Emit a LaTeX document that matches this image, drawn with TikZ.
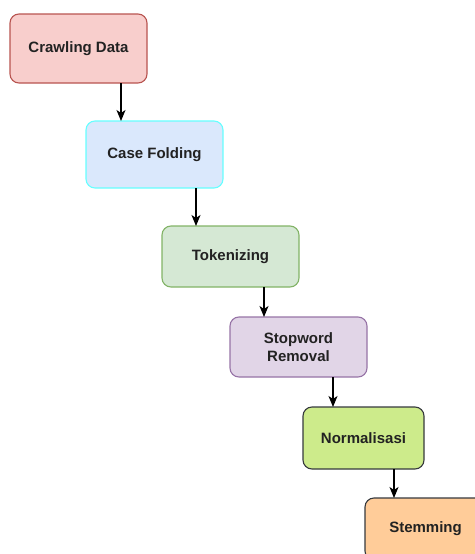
\documentclass[tikz,border=0pt]{standalone}
\usepackage{fontspec}
\setmainfont{Liberation Sans}
\usepackage{xcolor}
\usepackage{tikz}
\usetikzlibrary{
  arrows.meta,
  positioning
}
\definecolor{ppRed}{HTML}{F8CECC}
\definecolor{ppRedLine}{HTML}{B85450}
\definecolor{ppBlue}{HTML}{DAE8FC}
\definecolor{ppCyan}{HTML}{66FFFF}
\definecolor{ppGreen}{HTML}{D5E8D4}
\definecolor{ppGreenLine}{HTML}{82B366}
\definecolor{ppPurple}{HTML}{E1D5E7}
\definecolor{ppPurpleLine}{HTML}{9673A6}
\definecolor{ppLime}{HTML}{CDEB8B}
\definecolor{ppOrange}{HTML}{FFCC99}
\definecolor{ppDark}{HTML}{36393D}
\definecolor{ppText}{HTML}{222222}
\tikzset{
  ppnode/.style={
    draw, rounded corners=9pt, minimum width=137pt, minimum height=61pt,
    font=\fontsize{15}{18.5}\selectfont\bfseries, text=ppText, align=center,
    line width=1.1pt, inner sep=0pt, outer sep=0pt
  },
  crawlbox/.style={ppnode, fill=ppRed, draw=ppRedLine, minimum height=69pt},
  casebox/.style={ppnode, fill=ppBlue, draw=ppCyan, minimum height=67pt},
  tokenbox/.style={ppnode, fill=ppGreen, draw=ppGreenLine},
  stopbox/.style={ppnode, fill=ppPurple, draw=ppPurpleLine, minimum height=60pt},
  normbox/.style={ppnode, fill=ppLime, draw=ppDark, minimum width=121pt, minimum height=62pt},
  stembox/.style={ppnode, fill=ppOrange, draw=ppDark, minimum width=121pt, minimum height=62pt},
  flow/.style={-{Stealth[length=11pt, width=9pt, inset=3pt]}, line width=1.4pt, black}
}
\begin{document}
\begin{tikzpicture}
  \useasboundingbox (0,0) rectangle (474pt,-554pt);
  \node[crawlbox, anchor=north west] (crawl) at (10pt,-14pt) {Crawling Data};
  \node[casebox, below right=38pt and -61pt of crawl] (case) {Case Folding};
  \node[tokenbox, below right=38pt and -61pt of case] (token) {Tokenizing};
  \node[stopbox, below right=30pt and -69pt of token] (stop) {Stopword\\Removal};
  \node[normbox, below right=30pt and -64pt of stop] (norm) {Normalisasi};
  \node[stembox, below right=29pt and -59pt of norm] (stem) {Stemming};
  % arrow columns
  \coordinate (a1) at ([xshift=35pt]case.north west);
  \coordinate (a2) at ([xshift=34pt]token.north west);
  \coordinate (a3) at ([xshift=34pt]stop.north west);
  \coordinate (a4) at ([xshift=30pt]norm.north west);
  \coordinate (a5) at ([xshift=29pt]stem.north west);
  \draw[flow] (a1 |- crawl.south) -- (a1);
  \draw[flow] (a2 |- case.south) -- (a2);
  \draw[flow] (a3 |- token.south) -- (a3);
  \draw[flow] (a4 |- stop.south) -- (a4);
  \draw[flow] (a5 |- norm.south) -- (a5);
\end{tikzpicture}
\end{document}
